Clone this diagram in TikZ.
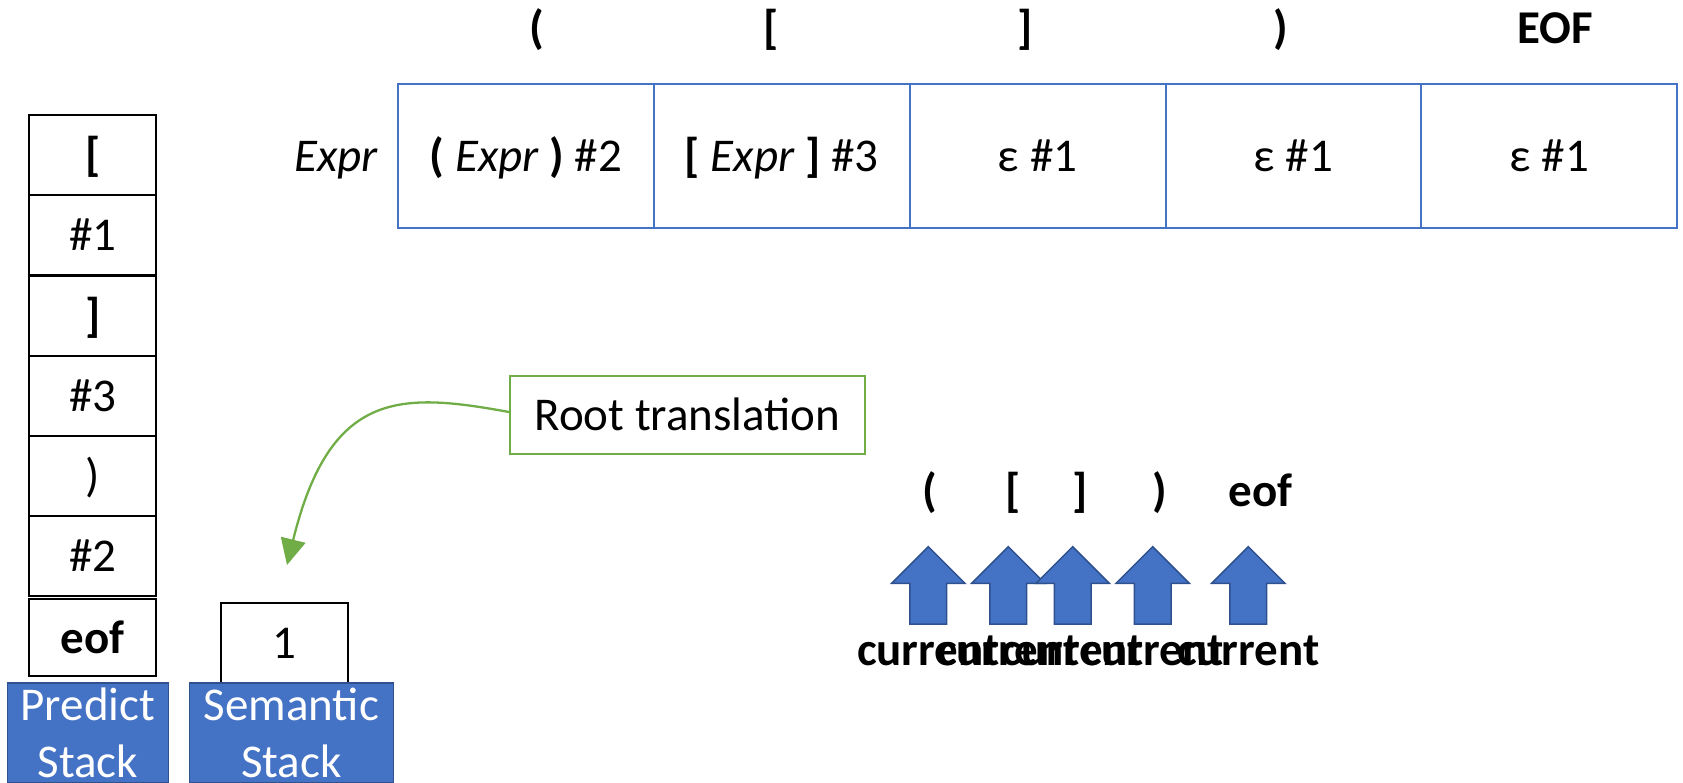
\documentclass[tikz,border=0pt]{standalone}
\usepackage{fontspec}
\setmainfont{Carlito}
\usetikzlibrary{arrows.meta}
\definecolor{accent}{HTML}{4472C4}
\definecolor{accentdark}{HTML}{2F528F}
\definecolor{notegreen}{HTML}{70AD47}
\begin{document}
\begin{tikzpicture}[x=1pt,y=-1pt,
  every node/.style={font=\fontsize{47}{57}\selectfont, inner sep=0pt},
  tok/.style={font=\fontsize{47}{57}\selectfont\bfseries, anchor=base},
  cell/.style={draw=accent, line width=2pt, minimum width=255.8pt, minimum height=144pt,
               text height=31pt, text depth=0pt},
  stackbox/.style={draw=black, line width=2.2pt, minimum width=126.7pt, minimum height=80.2pt,
               text height=31pt, text depth=0pt},
  stacklabel/.style={draw=accentdark, line width=1.5pt, fill=accent, text=white,
               align=center, minimum height=100pt},
  note/.style={draw=notegreen, line width=2pt, minimum width=355pt, minimum height=78pt,
               text height=31pt, text depth=0pt},
  blockarrow/.style={draw=accentdark, line width=1.5pt, fill=accent},
  uparrow/.pic={\draw[blockarrow] (-18.35,0) -- (-18.35,-40.7) -- (-36.65,-40.7) -- (0,-77.3)
                -- (36.65,-40.7) -- (18.35,-40.7) -- (18.35,0) -- cycle;}
]
\useasboundingbox (0,0) rectangle (1683,782);

% lookahead tokens over the parse table
\node[tok] (hd1) at (537,43) {(};
\node[tok] (hd2) at (771,43) {[};
\node[tok] (hd3) at (1025,43) {]};
\node[tok] (hd4) at (1281,43) {)};
\node[tok] (hd5) at (1555,43) {EOF};

% parse table row for Expr
\node[anchor=base] (nt) at (336,171) {\itshape Expr};
\node[cell] (c1) at (526,156) {\textbf{(} \textit{Expr} \textbf{)} \#2};
\node[cell] (c2) at (781.8,156) {\textbf{[} \textit{Expr} \textbf{]} \#3};
\node[cell] (c3) at (1037.6,156) {ε \#1};
\node[cell] (c4) at (1293.4,156) {ε \#1};
\node[cell] (c5) at (1549.2,156) {ε \#1};

% predict stack
\node[stackbox] (p1) at (92.7,155.1) {\textbf{[}};
\node[stackbox] (p2) at (92.7,235.3) {\#1};
\node[stackbox] (p3) at (92.7,315.5) {\textbf{]}};
\node[stackbox] (p4) at (92.7,395.7) {\#3};
\node[stackbox] (p5) at (92.7,475.9) {)};
\node[stackbox] (p6) at (92.7,556.1) {\#2};
\node[stackbox, minimum height=77.5pt] (p7) at (92.7,637.5) {\textbf{eof}};
\node[stacklabel, minimum width=161pt] (plabel) at (87.8,733) {Predict\\Stack};

% semantic stack
\node[stackbox, minimum width=127.3pt, minimum height=81pt] (s1) at (284.7,643.3) {1};
\node[stacklabel, minimum width=204pt] (slabel) at (291.3,733) {Semantic\\Stack};

% annotation
\node[note] (root) at (687.5,415) {Root translation};
\coordinate (rtip) at (287,565);
\draw[notegreen, line width=2.3pt, -{Triangle[length=26pt,width=25pt]}]
  ([yshift=3pt]root.west) .. controls (400,392) and (330,390) .. (rtip);

% input tokens with current-position markers
\node[tok] (t1) at (930,506) {(};
\node[tok] (t2) at (1012.7,506) {[};
\node[tok] (t3) at (1080,506) {]};
\node[tok] (t4) at (1160,506) {)};
\node[tok] (t5) at (1260.8,506) {eof};

\pic at (928.3,624) {uparrow};
\pic at (1008.3,624) {uparrow};
\pic at (1072.7,624) {uparrow};
\pic at (1152.7,624) {uparrow};
\pic at (1248.3,624) {uparrow};

\node[tok] (k1) at (928.3,665) {current};
\node[tok] (k2) at (1008.3,665) {current};
\node[tok] (k3) at (1072.7,665) {current};
\node[tok] (k4) at (1152.7,665) {current};
\node[tok] (k5) at (1248.3,665) {current};
\end{tikzpicture}
\end{document}
